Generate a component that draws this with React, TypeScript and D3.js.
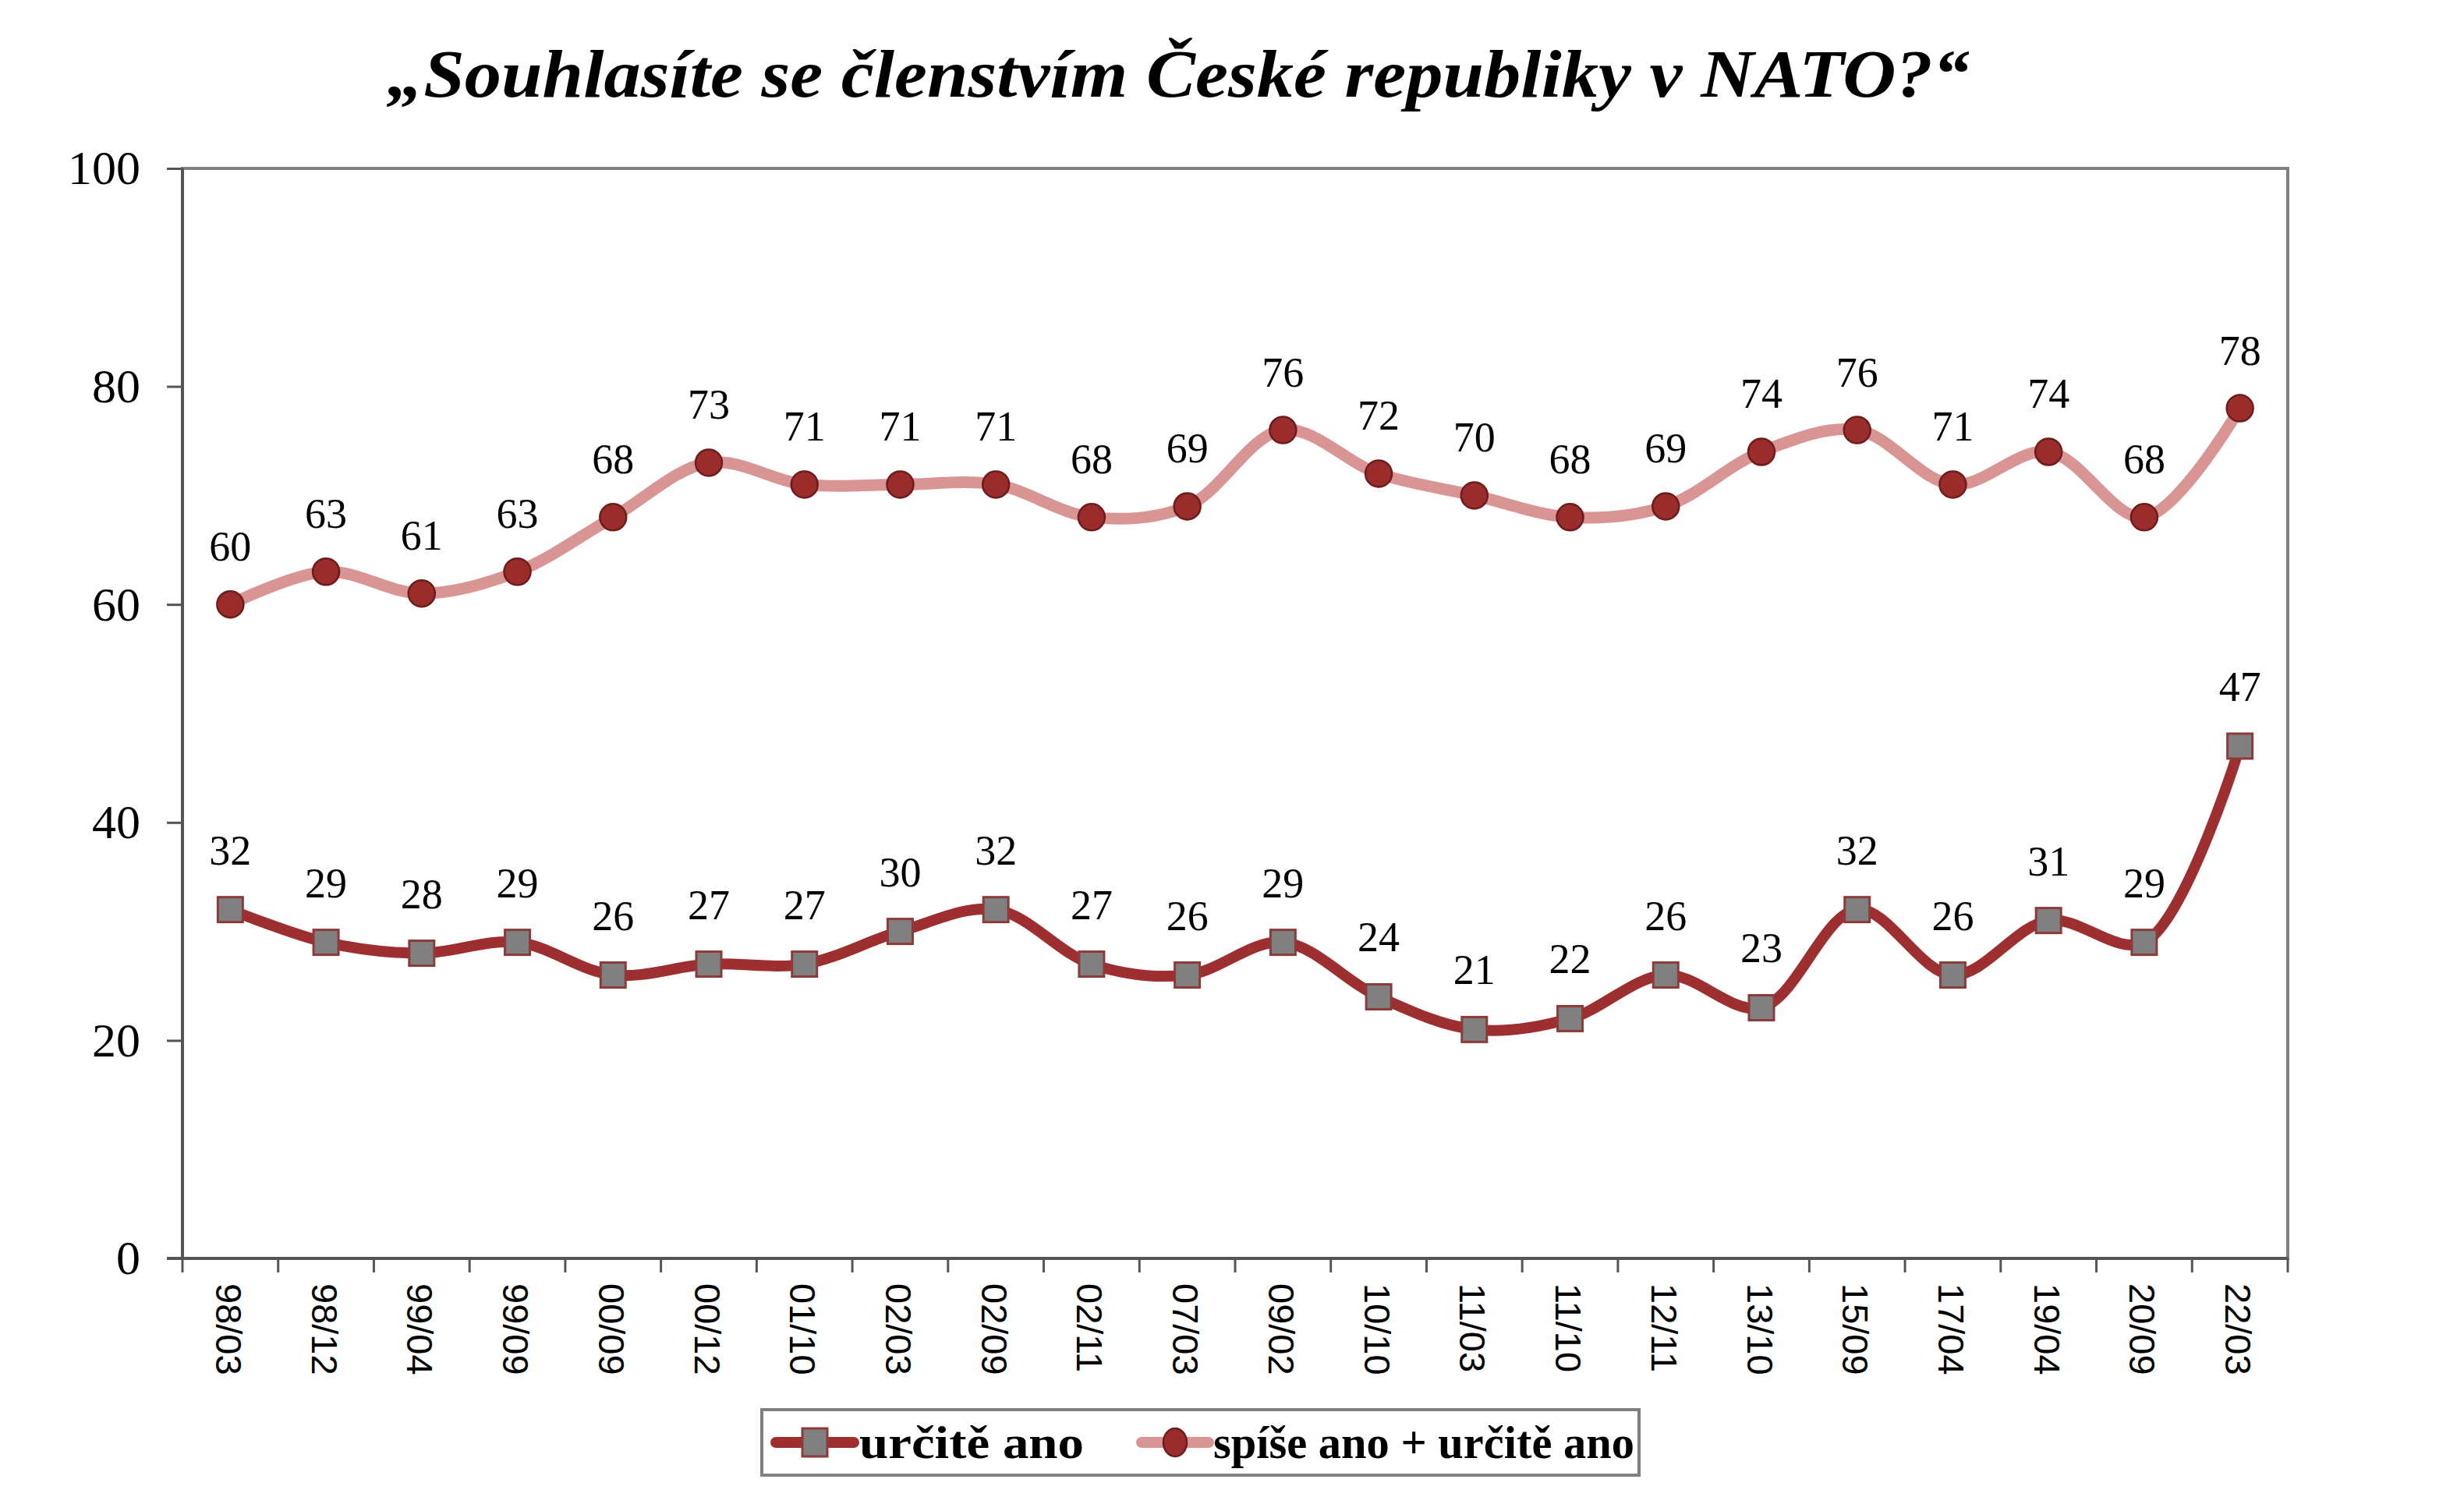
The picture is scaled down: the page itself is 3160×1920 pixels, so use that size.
import * as d3 from "d3";
import React, { useEffect, useRef } from "react";

const categories = [
  "98/03", "98/12", "99/04", "99/09", "00/09", "00/12", "01/10", "02/03",
  "02/09", "02/11", "07/03", "09/02", "10/10", "11/03", "11/10", "12/11",
  "13/10", "15/09", "17/04", "19/04", "20/09", "22/03",
];
const urciteAno = [
  32, 29, 28, 29, 26, 27, 27, 30, 32, 27, 26, 29, 24, 21, 22, 26, 23, 32, 26,
  31, 29, 47,
];
const spiseAno = [
  60, 63, 61, 63, 68, 73, 71, 71, 71, 68, 69, 76, 72, 70, 68, 69, 74, 76, 71,
  74, 68, 78,
];
const yTicks = [0, 20, 40, 60, 80, 100];
const seriesNames = ["určitě ano", "spíše ano + určitě ano"];
const title = "„Souhlasíte se členstvím České republiky v NATO?“";

const W = 3160;
const H = 1920;
const plot = { left: 234, right: 2934, top: 216, bottom: 1614 };

const darkLine = "#9E2F30";
const lightLine = "#D99594";
const dotFill = "#9B2C2C";
const dotStroke = "#6E1C1C";
const squareFill = "#808080";
const squareStroke = "#8E3A3A";
const serif = "'Liberation Serif', 'Times New Roman', serif";
const sans = "'Liberation Sans', Arial, sans-serif";

export default function App() {
  const xAxisRef = useRef<SVGGElement>(null);
  const yAxisRef = useRef<SVGGElement>(null);

  const x = d3
    .scaleBand<string>()
    .domain(categories)
    .range([plot.left, plot.right]);
  const y = d3.scaleLinear().domain([0, 100]).range([plot.bottom, plot.top]);
  const cx = (i: number) => (x(categories[i]) as number) + x.bandwidth() / 2;

  const lineGen = d3
    .line<number>()
    .x((_, i) => cx(i))
    .y((d) => y(d))
    .curve(d3.curveCatmullRom.alpha(0.5));

  useEffect(() => {
    document.body.style.margin = "0";

    const yAxis = d3.axisLeft(y).tickValues(yTicks).tickSize(20).tickPadding(34);
    const gy = d3.select(yAxisRef.current).call(yAxis);
    gy.select(".domain").remove();
    gy.selectAll(".tick line").attr("stroke", "#555").attr("stroke-width", 3);
    gy.selectAll(".tick text")
      .attr("font-family", serif)
      .attr("font-size", 62)
      .attr("fill", "#000");

    // band edges get the ticks, labels sit under the band centers
    const edges = d3.range(categories.length + 1).map(
      (i) => plot.left + i * x.step()
    );
    const gx = d3.select(xAxisRef.current);
    gx.selectAll("line.tk")
      .data(edges)
      .join("line")
      .attr("class", "tk")
      .attr("x1", (d) => d)
      .attr("x2", (d) => d)
      .attr("y1", plot.bottom)
      .attr("y2", plot.bottom + 18)
      .attr("stroke", "#555")
      .attr("stroke-width", 3);
    gx.selectAll("text.lbl")
      .data(categories)
      .join("text")
      .attr("class", "lbl")
      .attr(
        "transform",
        (d) => `translate(${(x(d) as number) + x.bandwidth() / 2 - 2},${plot.bottom + 32}) rotate(90)`
      )
      .attr("dominant-baseline", "central")
      .attr("font-family", sans)
      .attr("font-size", 47)
      .attr("fill", "#000")
      .text((d) => d);
  }, []);

  return (
    <svg width={W} height={H} style={{ display: "block", background: "#fff" }}>
      <text
        x={1511}
        y={124}
        textAnchor="middle"
        fontFamily={serif}
        fontStyle="italic"
        fontWeight="bold"
        fontSize={86}
        textLength={2030}
        lengthAdjust="spacingAndGlyphs"
      >
        {title}
      </text>

      <rect
        x={plot.left}
        y={plot.top}
        width={plot.right - plot.left}
        height={plot.bottom - plot.top}
        fill="none"
        stroke="#808080"
        strokeWidth={4}
      />
      <line x1={plot.left} x2={plot.left} y1={plot.top} y2={plot.bottom} stroke="#555" strokeWidth={4} />
      <line x1={plot.left - 20} x2={plot.right} y1={plot.bottom} y2={plot.bottom} stroke="#555" strokeWidth={4} />

      <g ref={yAxisRef} transform={`translate(${plot.left},0)`} />
      <g ref={xAxisRef} />

      <path d={lineGen(spiseAno) ?? ""} fill="none" stroke={lightLine} strokeWidth={15} strokeLinejoin="round" />
      <path d={lineGen(urciteAno) ?? ""} fill="none" stroke={darkLine} strokeWidth={14} strokeLinejoin="round" />

      {spiseAno.map((v, i) => (
        <g key={`s${i}`}>
          <circle cx={cx(i)} cy={y(v)} r={17} fill={dotFill} stroke={dotStroke} strokeWidth={2.5} />
          <text x={cx(i)} y={y(v) - 56} textAnchor="middle" fontFamily={serif} fontSize={54}>
            {v}
          </text>
        </g>
      ))}
      {urciteAno.map((v, i) => (
        <g key={`u${i}`}>
          <rect x={cx(i) - 16} y={y(v) - 16} width={32} height={32} fill={squareFill} stroke={squareStroke} strokeWidth={3} />
          <text x={cx(i)} y={y(v) - 58} textAnchor="middle" fontFamily={serif} fontSize={54}>
            {v}
          </text>
        </g>
      ))}

      <g>
        <rect x={977} y={1808} width={1125} height={84} fill="#fff" stroke="#808080" strokeWidth={4} />
        <line x1={995} x2={1095} y1={1850} y2={1850} stroke={darkLine} strokeWidth={14} strokeLinecap="round" />
        <rect x={1029} y={1832} width={32} height={36} fill={squareFill} stroke={squareStroke} strokeWidth={3} />
        <text x={1102} y={1870} fontFamily={serif} fontWeight="bold" fontSize={60} textLength={288} lengthAdjust="spacingAndGlyphs">
          {seriesNames[0]}
        </text>
        <line x1={1464} x2={1550} y1={1850} y2={1850} stroke={lightLine} strokeWidth={14} strokeLinecap="round" />
        <ellipse cx={1507} cy={1850} rx={15} ry={18} fill={dotFill} stroke={dotStroke} strokeWidth={2.5} />
        <text x={1556} y={1870} fontFamily={serif} fontWeight="bold" fontSize={60} textLength={540} lengthAdjust="spacingAndGlyphs">
          {seriesNames[1]}
        </text>
      </g>
    </svg>
  );
}
